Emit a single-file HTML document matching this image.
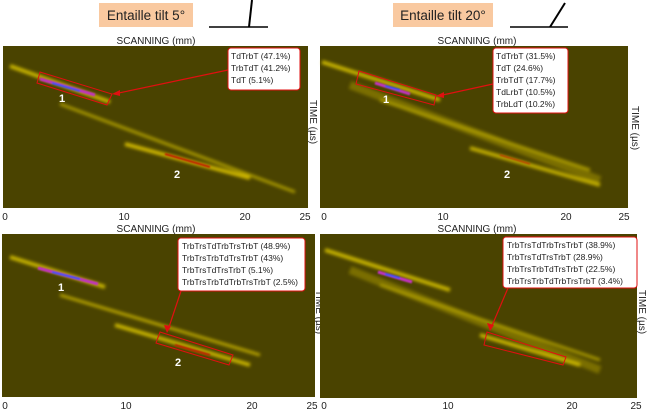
<!DOCTYPE html>
<html><head><meta charset="utf-8"><style>
body{margin:0;background:#fff;width:650px;height:411px;overflow:hidden}
text{font-family:"Liberation Sans",sans-serif}
</style></head><body>
<svg width="650" height="411" viewBox="0 0 650 411" xmlns="http://www.w3.org/2000/svg">
<defs>
<filter id="b" x="-20%" y="-200%" width="140%" height="500%"><feGaussianBlur stdDeviation="1.6"/></filter>
<filter id="b2" x="-20%" y="-200%" width="140%" height="500%"><feGaussianBlur stdDeviation="0.8"/></filter>
</defs>
<!-- titles -->
<rect x="99" y="3" width="94" height="24" fill="#f9c9a0"/>
<text x="146" y="20" font-size="13.5" text-anchor="middle" fill="#222">Entaille tilt 5°</text>
<line x1="209" y1="27" x2="268" y2="27" stroke="#000" stroke-width="1.5"/>
<line x1="249" y1="27" x2="252" y2="0" stroke="#000" stroke-width="2"/>
<rect x="393" y="3" width="100" height="24" fill="#f9c9a0"/>
<text x="443" y="20" font-size="13.5" text-anchor="middle" fill="#222">Entaille tilt 20°</text>
<line x1="510" y1="27" x2="568" y2="27" stroke="#000" stroke-width="1.5"/>
<line x1="550" y1="27" x2="565" y2="3" stroke="#000" stroke-width="2"/>

<g font-size="10" fill="#222">
<text x="156" y="44" text-anchor="middle">SCANNING (mm)</text>
<text x="477" y="44" text-anchor="middle">SCANNING (mm)</text>
<text x="156" y="232" text-anchor="middle">SCANNING (mm)</text>
<text x="477" y="232" text-anchor="middle">SCANNING (mm)</text>
<text transform="translate(310,100) rotate(90)" >TIME (µs)</text>
<text transform="translate(632,106) rotate(90)" >TIME (µs)</text>
<text transform="translate(316,290) rotate(90)" >TIME (µs)</text>
<text transform="translate(639,290) rotate(90)" >TIME (µs)</text>
<text x="5" y="220" text-anchor="middle">0</text><text x="124" y="220" text-anchor="middle">10</text><text x="245" y="220" text-anchor="middle">20</text><text x="305" y="220" text-anchor="middle">25</text>
<text x="324" y="220" text-anchor="middle">0</text><text x="443" y="220" text-anchor="middle">10</text><text x="566" y="220" text-anchor="middle">20</text><text x="624" y="220" text-anchor="middle">25</text>
<text x="5" y="409" text-anchor="middle">0</text><text x="126" y="409" text-anchor="middle">10</text><text x="252" y="409" text-anchor="middle">20</text><text x="312" y="409" text-anchor="middle">25</text>
<text x="324" y="409" text-anchor="middle">0</text><text x="448" y="409" text-anchor="middle">10</text><text x="572" y="409" text-anchor="middle">20</text><text x="636" y="409" text-anchor="middle">25</text>
</g>

<!-- TL -->
<rect x="3" y="46" width="305" height="162" fill="#4a4300"/>
<g filter="url(#b)">
<line x1="10" y1="66" x2="110" y2="102" stroke="#c8b400" stroke-width="4"/>
<line x1="60" y1="104" x2="295" y2="192" stroke="#a89800" stroke-width="3"/>
<line x1="125" y1="144" x2="250" y2="178" stroke="#d0b800" stroke-width="4"/>
</g>
<g filter="url(#b2)">
<line x1="40" y1="79" x2="95" y2="95" stroke="#c030c0" stroke-width="3"/>
<line x1="52" y1="83" x2="80" y2="91" stroke="#3050ff" stroke-width="2"/>
<line x1="165" y1="154" x2="210" y2="167" stroke="#c02000" stroke-width="2"/>
</g>
<polygon points="40,72 112,94 107,105 37,83" fill="none" stroke="#e01010" stroke-width="1"/>
<line x1="228" y1="70" x2="114" y2="94" stroke="#e01010" stroke-width="1.2"/>
<polygon points="112,94 120,90 120,96" fill="#e01010"/>
<rect x="228" y="48" width="72" height="42" rx="3" fill="#fff" stroke="#e01010"/>
<g font-size="8.5" fill="#222"><text x="231" y="59">TdTrbT (47.1%)</text><text x="231" y="71">TrbTdT (41.2%)</text><text x="231" y="83">TdT (5.1%)</text></g>
<text x="59" y="102" font-size="11" font-weight="bold" fill="#fff">1</text>
<text x="174" y="178" font-size="11" font-weight="bold" fill="#fff">2</text>

<!-- TR -->
<rect x="320" y="46" width="308" height="162" fill="#4a4300"/>
<g filter="url(#b)">
<line x1="322" y1="62" x2="440" y2="100" stroke="#c8b400" stroke-width="4"/>
<line x1="350" y1="85" x2="600" y2="180" stroke="#7a6e00" stroke-width="8"/>
<line x1="380" y1="100" x2="590" y2="170" stroke="#a89800" stroke-width="3"/>
<line x1="470" y1="148" x2="600" y2="185" stroke="#c0ac00" stroke-width="4"/>
</g>
<g filter="url(#b2)"><line x1="375" y1="83" x2="410" y2="94" stroke="#c030c0" stroke-width="3"/><line x1="385" y1="86" x2="400" y2="90" stroke="#3050ff" stroke-width="2"/><line x1="500" y1="155" x2="530" y2="164" stroke="#c04000" stroke-width="1.5"/></g>
<polygon points="359,71 436,95 434,105 356,84" fill="none" stroke="#e01010"/>
<line x1="493" y1="84" x2="438" y2="96" stroke="#e01010" stroke-width="1.2"/>
<polygon points="436,96 444,92 444,98" fill="#e01010"/>
<rect x="493" y="48" width="75" height="65" rx="3" fill="#fff" stroke="#e01010"/>
<g font-size="8.5" fill="#222"><text x="496" y="59">TdTrbT (31.5%)</text><text x="496" y="71">TdT (24.6%)</text><text x="496" y="83">TrbTdT (17.7%)</text><text x="496" y="95">TdLrbT (10.5%)</text><text x="496" y="107">TrbLdT (10.2%)</text></g>
<text x="383" y="103" font-size="11" font-weight="bold" fill="#fff">1</text>
<text x="504" y="178" font-size="11" font-weight="bold" fill="#fff">2</text>

<!-- BL -->
<rect x="2" y="234" width="313" height="163" fill="#4a4300"/>
<g filter="url(#b)">
<line x1="10" y1="257" x2="105" y2="287" stroke="#c8b400" stroke-width="4"/>
<line x1="60" y1="295" x2="260" y2="355" stroke="#b8a400" stroke-width="3"/>
<line x1="115" y1="325" x2="250" y2="365" stroke="#c8b400" stroke-width="4"/>
</g>
<g filter="url(#b2)"><line x1="38" y1="268" x2="98" y2="284" stroke="#c030c0" stroke-width="3"/><line x1="52" y1="272" x2="80" y2="279" stroke="#3050ff" stroke-width="2"/><line x1="175" y1="345" x2="210" y2="355" stroke="#c02000" stroke-width="2"/></g>
<polygon points="160,332 233,355 229,365 156,343" fill="none" stroke="#e01010"/>
<line x1="181" y1="291" x2="168" y2="330" stroke="#e01010" stroke-width="1.2"/>
<polygon points="167,333 164,325 171,326" fill="#e01010"/>
<rect x="178" y="238" width="127" height="53" rx="3" fill="#fff" stroke="#e01010"/>
<g font-size="8.5" fill="#222"><text x="182" y="249">TrbTrsTdTrbTrsTrbT (48.9%)</text><text x="182" y="261">TrbTrsTrbTdTrsTrbT (43%)</text><text x="182" y="273">TrbTrsTdTrsTrbT (5.1%)</text><text x="182" y="285">TrbTrsTrbTdTrbTrsTrbT (2.5%)</text></g>
<text x="58" y="291" font-size="11" font-weight="bold" fill="#fff">1</text>
<text x="175" y="366" font-size="11" font-weight="bold" fill="#fff">2</text>

<!-- BR -->
<rect x="320" y="234" width="317" height="164" fill="#4a4300"/>
<g filter="url(#b)">
<line x1="325" y1="250" x2="450" y2="290" stroke="#c8b400" stroke-width="4"/>
<line x1="350" y1="270" x2="600" y2="370" stroke="#7a6e00" stroke-width="8"/>
<line x1="380" y1="285" x2="600" y2="360" stroke="#a89800" stroke-width="3"/>
<line x1="480" y1="335" x2="580" y2="365" stroke="#c8b400" stroke-width="4"/>
</g>
<g filter="url(#b2)"><line x1="378" y1="272" x2="412" y2="282" stroke="#c030c0" stroke-width="3"/><line x1="385" y1="274" x2="400" y2="278" stroke="#3050ff" stroke-width="2"/></g>
<polygon points="487,332 566,357 563,365 484,345" fill="none" stroke="#e01010"/>
<line x1="508" y1="288" x2="491" y2="328" stroke="#e01010" stroke-width="1.2"/>
<polygon points="490,331 487,323 494,325" fill="#e01010"/>
<rect x="503" y="237" width="134" height="51" rx="3" fill="#fff" stroke="#e01010"/>
<g font-size="8.5" fill="#222"><text x="507" y="248">TrbTrsTdTrbTrsTrbT (38.9%)</text><text x="507" y="260">TrbTrsTdTrsTrbT (28.9%)</text><text x="507" y="272">TrbTrsTrbTdTrsTrbT (22.5%)</text><text x="507" y="284">TrbTrsTrbTdTrbTrsTrbT (3.4%)</text></g>
</svg>
</body></html>
